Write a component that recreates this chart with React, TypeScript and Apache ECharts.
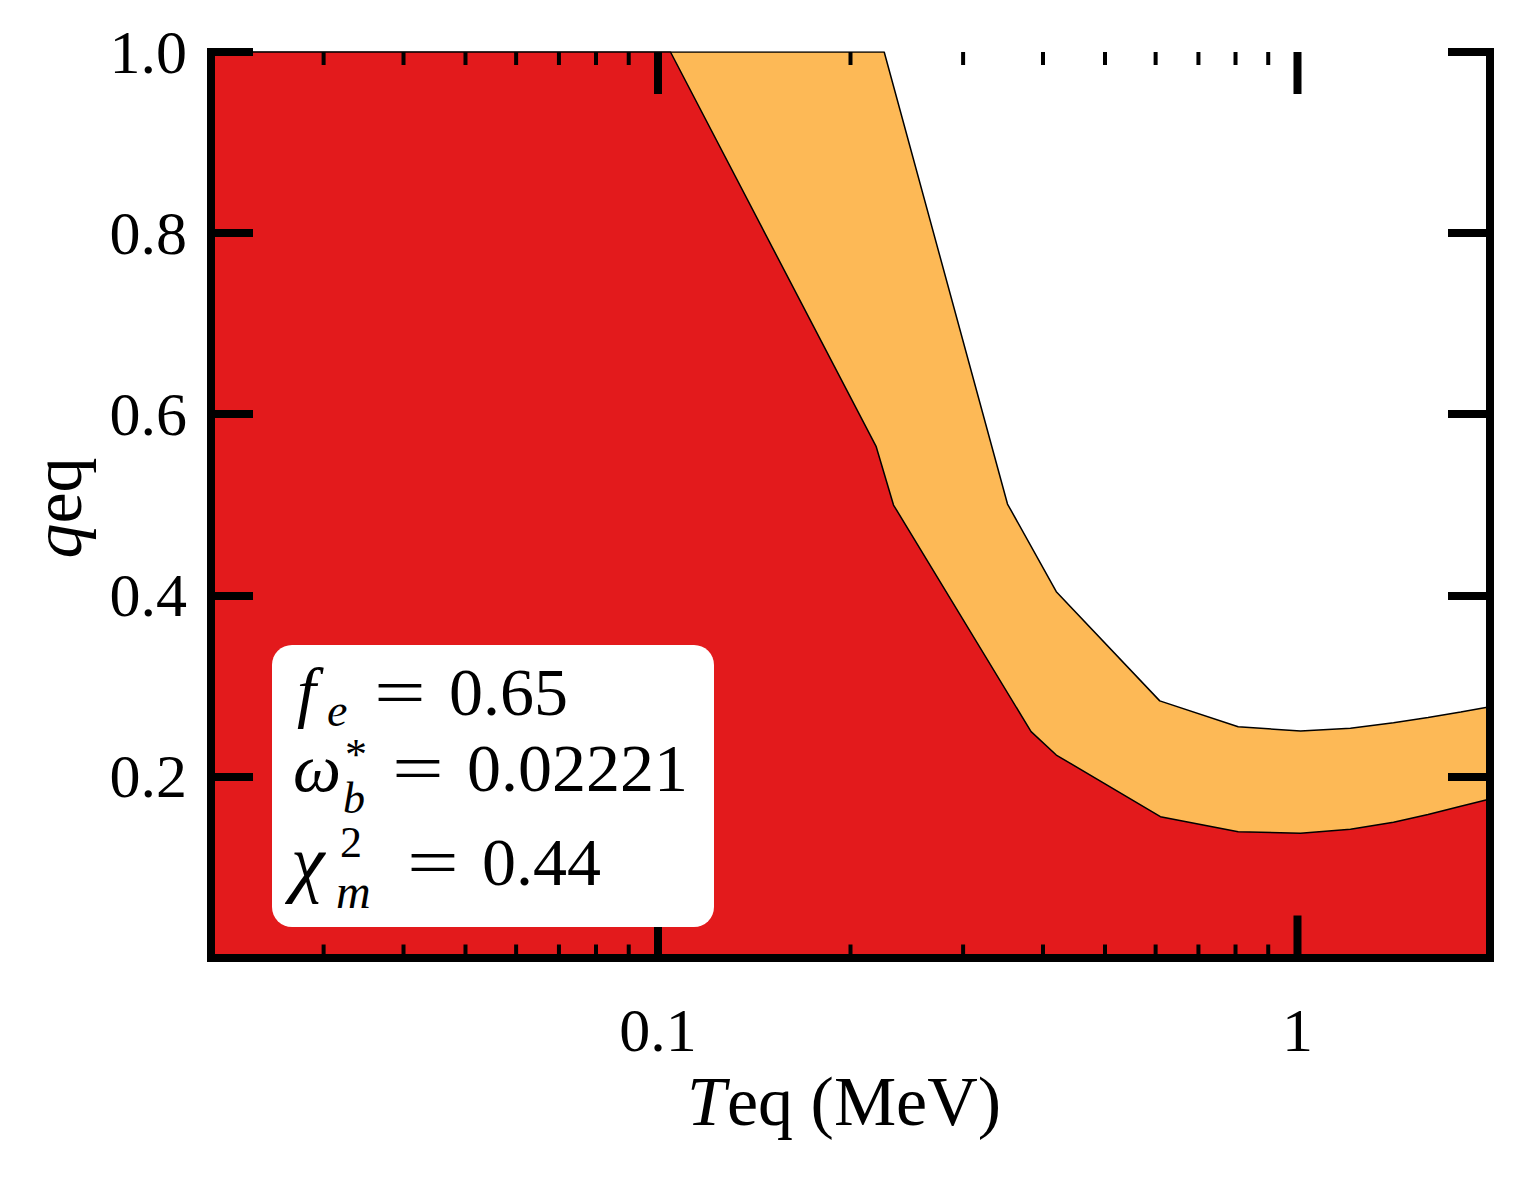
import React, { useEffect, useRef } from "react";
import * as echarts from "echarts";

// ---- data ----
// lower boundary: excluded (red) region
const redT = [0.02, 0.1046, 0.2194, 0.2335, 0.3832, 0.4196, 0.6104, 0.8077, 1.011, 1.21, 1.413, 1.6, 1.8, 2.0];
const redQ = [1.0, 1.0, 0.5641, 0.4997, 0.2494, 0.2236, 0.1555, 0.1389, 0.1372, 0.1416, 0.1493, 0.158, 0.167, 0.175];
// upper boundary: orange band
const orangeT = [0.02, 0.2258, 0.352, 0.4196, 0.609, 0.8077, 1.011, 1.21, 1.413, 1.6, 1.8, 2.0];
const orangeQ = [1.0, 1.0, 0.5008, 0.404, 0.2834, 0.2549, 0.2501, 0.2531, 0.2593, 0.265, 0.271, 0.277];

const xMin = 0.02;
const xMax = 2;
const xMajorTicks = [0.1, 1];
const xMajorLabels = ["0.1", "1"];
const xMinorTicks = [0.02, 0.03, 0.04, 0.05, 0.06, 0.07, 0.08, 0.09, 0.2, 0.3, 0.4, 0.5, 0.6, 0.7, 0.8, 0.9, 2];
const yMin = 0;
const yMax = 1;
const yInterval = 0.2;

const feValue = "0.65";
const omegaValue = "0.02221";
const chiValue = "0.44";

const FONT = '"Liberation Serif", "Times New Roman", serif';
const RED = "#E31A1C";
const ORANGE = "#FDB956";

function txt(
  x: number,
  y: number,
  text: string,
  size: number,
  italic = false,
  align = "left",
  extra: any = {}
) {
  return {
    type: "text",
    x,
    y,
    z: 101,
    ...extra,
    style: {
      text,
      fill: "#000",
      fontSize: size,
      fontFamily: FONT,
      fontStyle: italic ? "italic" : "normal",
      align,
      verticalAlign: "middle",
    },
  };
}

export default function App() {
  const ref = useRef<HTMLDivElement>(null);
  useEffect(() => {
    document.body.style.margin = "0";
    document.body.style.overflow = "hidden";
    if (!ref.current) return;
    const chart = echarts.init(ref.current, null, { renderer: "svg" });

    const axisLine = { show: true, lineStyle: { color: "#000", width: 8, cap: "square" } };
    const xAxisBase = {
      type: "log",
      logBase: 10,
      min: xMin,
      max: xMax,
      gridIndex: 0,
      z: 10,
      axisLine,
      axisTick: { show: false },
      minorTick: { show: false },
      splitLine: { show: false },
    };
    const yAxisBase = {
      type: "value",
      min: yMin,
      max: yMax,
      interval: yInterval,
      gridIndex: 0,
      z: 10,
      axisLine,
      axisTick: { show: true, inside: true, length: 42, lineStyle: { color: "#000", width: 8 } },
      splitLine: { show: false },
    };

    const ticks = [
      ...xMajorTicks.map((v) => [v, 1]),
      ...xMinorTicks.map((v) => [v, 0]),
    ];

    chart.setOption({
      animation: false,
      backgroundColor: "#fff",
      grid: { left: 211, right: 29, top: 52, bottom: 221.5, containLabel: false },
      xAxis: [
        {
          ...xAxisBase,
          position: "bottom",
          axisLabel: {
            show: true,
            margin: 41,
            color: "#000",
            fontSize: 62,
            fontFamily: FONT,
            formatter: (v: number) => {
              for (let i = 0; i < xMajorTicks.length; i++) {
                if (Math.abs(v - xMajorTicks[i]) < 1e-9) return xMajorLabels[i];
              }
              return "";
            },
          },
        },
        { ...xAxisBase, position: "top", axisLabel: { show: false } },
      ],
      yAxis: [
        {
          ...yAxisBase,
          position: "left",
          axisLabel: {
            show: true,
            margin: 24,
            color: "#000",
            fontSize: 62,
            fontFamily: FONT,
            showMinLabel: false,
            formatter: (v: number) => (v === 0 ? "" : v.toFixed(1)),
          },
        },
        { ...yAxisBase, position: "right", axisLabel: { show: false } },
      ],
      series: [
        {
          type: "line",
          xAxisIndex: 0,
          yAxisIndex: 0,
          z: 2,
          symbol: "none",
          data: orangeT.map((t, i) => [t, orangeQ[i]]),
          lineStyle: { color: "#000", width: 1.5 },
          areaStyle: { color: ORANGE, opacity: 1, origin: "start" },
          silent: true,
        },
        {
          type: "line",
          xAxisIndex: 0,
          yAxisIndex: 0,
          z: 3,
          symbol: "none",
          data: redT.map((t, i) => [t, redQ[i]]),
          lineStyle: { color: "#000", width: 1.5 },
          areaStyle: { color: RED, opacity: 1, origin: "start" },
          silent: true,
        },
        {
          type: "custom",
          xAxisIndex: 0,
          yAxisIndex: 0,
          z: 5,
          silent: true,
          clip: false,
          data: ticks,
          renderItem: (params: any, api: any) => {
            const v = api.value(0);
            const major = api.value(1) === 1;
            const b = api.coord([v, yMin]);
            const t = api.coord([v, yMax]);
            const len = major ? 42 : 13;
            const w = major ? 8 : 4;
            return {
              type: "group",
              children: [
                { type: "line", shape: { x1: b[0], y1: b[1], x2: b[0], y2: b[1] - len }, style: { stroke: "#000", lineWidth: w } },
                { type: "line", shape: { x1: t[0], y1: t[1], x2: t[0], y2: t[1] + len }, style: { stroke: "#000", lineWidth: w } },
              ],
            };
          },
        },
      ],
      graphic: [
        { type: "rect", z: 100, shape: { x: 272, y: 645, width: 442, height: 282, r: 20 }, style: { fill: "#fff" } },
        // line 1: f_e = 0.65
        txt(297, 692, "f", 68, true),
        txt(327, 710, "e", 46, true),
        txt(400, 692, "=", 68, false, "center", { scaleX: 1.35 }),
        txt(449, 692, feValue, 68),
        // line 2: ω_b^* = 0.02221
        txt(293, 768, "ω", 68, true),
        txt(345, 754, "*", 44),
        txt(343, 798, "b", 44, true),
        txt(418, 768, "=", 68, false, "center", { scaleX: 1.35 }),
        txt(467, 768, omegaValue, 68),
        // line 3: χ_m^2 = 0.44
        txt(291, 862, "χ", 76, true),
        txt(340, 842, "2", 44),
        txt(336, 891, "m", 48, true),
        txt(433, 862, "=", 68, false, "center", { scaleX: 1.35 }),
        txt(482, 862, chiValue, 68),
        // x axis title
        txt(687, 1101, "T", 70, true),
        txt(727, 1101, "eq (MeV)", 70),
        // y axis title (rotated)
        {
          type: "text",
          x: 57,
          y: 508,
          rotation: Math.PI / 2,
          z: 101,
          style: {
            text: "{a|q}{b|eq}",
            fill: "#000",
            align: "center",
            verticalAlign: "middle",
            fontSize: 70,
            fontFamily: FONT,
            rich: {
              a: { fontSize: 70, fontFamily: FONT, fontStyle: "italic", fill: "#000" },
              b: { fontSize: 70, fontFamily: FONT, fill: "#000" },
            },
          },
        },
      ],
    });
    return () => chart.dispose();
  }, []);
  return <div ref={ref} style={{ width: 1519, height: 1179 }} />;
}
